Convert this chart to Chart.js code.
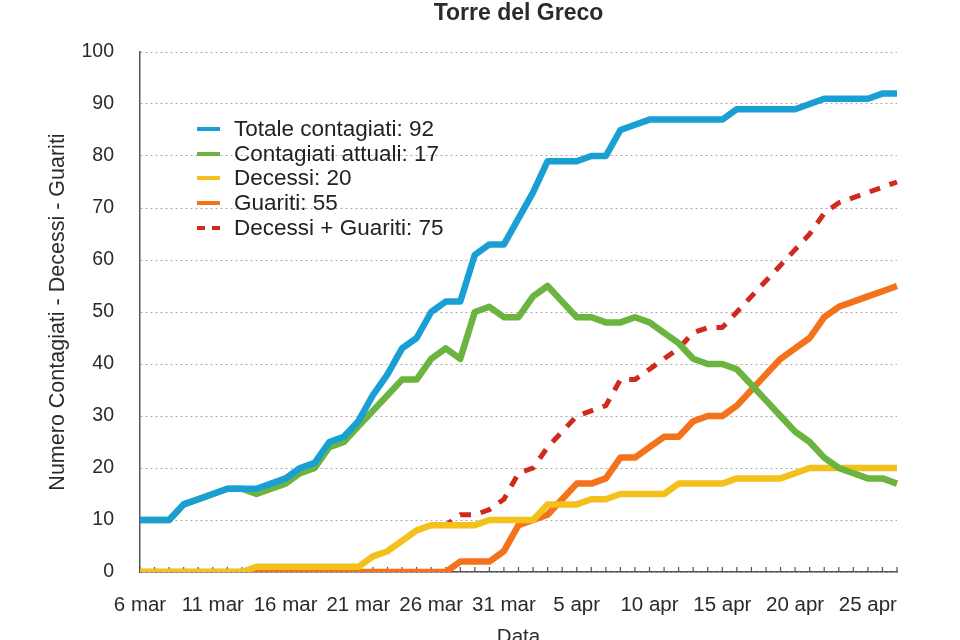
<!DOCTYPE html>
<html>
<head>
<meta charset="utf-8">
<script src="https://cdn.jsdelivr.net/npm/chart.js@4"></script>
<style>
  body { margin: 0; background: #fff; }
  #wrap { position: relative; width: 960px; height: 640px; }
  #legend { position: absolute; left: 197px; top: 117px; font: 22.5px "Liberation Sans", Arial, sans-serif; color: #222; }
  .row { display: flex; align-items: center; height: 24.6px; white-space: nowrap; }
  .sw { width: 23px; height: 4px; margin-right: 14px; }
</style>
</head>
<body>
<div id="wrap">
  <canvas id="c" width="960" height="640"></canvas>
  <div id="legend"></div>
</div>
<script>
const days = [
  '6 mar', '7 mar', '8 mar', '9 mar', '10 mar', '11 mar', '12 mar', '13 mar', '14 mar', '15 mar',
  '16 mar', '17 mar', '18 mar', '19 mar', '20 mar', '21 mar', '22 mar', '23 mar', '24 mar', '25 mar',
  '26 mar', '27 mar', '28 mar', '29 mar', '30 mar', '31 mar',
  '1 apr', '2 apr', '3 apr', '4 apr', '5 apr', '6 apr', '7 apr', '8 apr', '9 apr', '10 apr',
  '11 apr', '12 apr', '13 apr', '14 apr', '15 apr', '16 apr', '17 apr', '18 apr', '19 apr', '20 apr',
  '21 apr', '22 apr', '23 apr', '24 apr', '25 apr', '26 apr', '27 apr',
]

const totale = [
  10, 10, 10, 13, 14, 15, 16, 16, 16, 17,
  18, 20, 21, 25, 26, 29, 34, 38, 43, 45,
  50, 52, 52, 61, 63, 63, 68, 73, 79, 79,
  79, 80, 80, 85, 86, 87, 87, 87, 87, 87,
  87, 89, 89, 89, 89, 89, 90, 91, 91, 91,
  91, 92, 92,
]
const attuali = [
  10, 10, 10, 13, 14, 15, 16, 16, 15, 16,
  17, 19, 20, 24, 25, 28, 31, 34, 37, 37,
  41, 43, 41, 50, 51, 49, 49, 53, 55, 52,
  49, 49, 48, 48, 49, 48, 46, 44, 41, 40,
  40, 39, 36, 33, 30, 27, 25, 22, 20, 19,
  18, 18, 17,
]
const decessi = [
  0, 0, 0, 0, 0, 0, 0, 0, 1, 1,
  1, 1, 1, 1, 1, 1, 3, 4, 6, 8,
  9, 9, 9, 9, 10, 10, 10, 10, 13, 13,
  13, 14, 14, 15, 15, 15, 15, 17, 17, 17,
  17, 18, 18, 18, 18, 19, 20, 20, 20, 20,
  20, 20, 20,
]
const guariti = [
  0, 0, 0, 0, 0, 0, 0, 0, 0, 0,
  0, 0, 0, 0, 0, 0, 0, 0, 0, 0,
  0, 0, 2, 2, 2, 4, 9, 10, 11, 14,
  17, 17, 18, 22, 22, 24, 26, 26, 29, 30,
  30, 32, 35, 38, 41, 43, 45, 49, 51, 52,
  53, 54, 55,
]
const decessiGuariti = [
  0, 0, 0, 0, 0, 0, 0, 0, 1, 1,
  1, 1, 1, 1, 1, 1, 3, 4, 6, 8,
  9, 9, 11, 11, 12, 14, 19, 20, 24, 27,
  30, 31, 32, 37, 37, 39, 41, 43, 46, 47,
  47, 50, 53, 56, 59, 62, 65, 69, 71, 72,
  73, 74, 75,
]

const FONT = '"Liberation Sans", Arial, sans-serif'
const TEXT = '#2a2a2a'

function line(label, data, color, dash) {
  return {
    label,
    data,
    borderColor: color,
    backgroundColor: color,
    borderWidth: dash ? 5 : 6.5,
    borderDash: dash || [],
    borderCapStyle: 'butt',
    borderJoinStyle: 'round',
    pointRadius: 0,
    tension: 0,
    fill: false,
  }
}

const datasets = [
  line('Totale contagiati: 92', totale, '#1a9fd4'),
  line('Contagiati attuali: 17', attuali, '#6bb43f'),
  line('Decessi: 20', decessi, '#f4c01c'),
  line('Guariti: 55', guariti, '#f4721b'),
  line('Decessi + Guariti: 75', decessiGuariti, '#d02a1d', [11, 10]),
]

// small day ticks pointing up from the x axis
const dayTicks = {
  id: 'dayTicks',
  beforeDatasetsDraw(chart) {
    const x = chart.scales.x
    const ctx = chart.ctx
    const y0 = chart.chartArea.bottom
    ctx.save()
    ctx.strokeStyle = '#555'
    ctx.lineWidth = 1.2
    ctx.beginPath()
    days.forEach((d, i) => {
      const px = x.getPixelForValue(i)
      ctx.moveTo(px, y0)
      ctx.lineTo(px, y0 - 5)
    })
    ctx.stroke()
    ctx.restore()
  },
}

const htmlLegend = {
  id: 'htmlLegend',
  afterUpdate(chart) {
    const box = document.getElementById('legend')
    box.innerHTML = ''
    chart.data.datasets.forEach((ds) => {
      const row = document.createElement('div')
      row.className = 'row'
      const sw = document.createElement('span')
      sw.className = 'sw'
      if (ds.borderDash.length) {
        sw.style.background = `repeating-linear-gradient(90deg, ${ds.borderColor} 0 8px, transparent 8px 15px)`
      } else {
        sw.style.background = ds.borderColor
      }
      const txt = document.createElement('span')
      txt.textContent = ds.label
      row.appendChild(sw)
      row.appendChild(txt)
      box.appendChild(row)
    })
  },
}

new Chart(document.getElementById('c'), {
  type: 'line',
  data: { labels: days, datasets },
  plugins: [dayTicks, htmlLegend],
  options: {
    responsive: false,
    animation: false,
    layout: { padding: { left: 0, right: 63, top: 0, bottom: 0 } },
    plugins: {
      legend: { display: false },
      tooltip: { enabled: false },
      title: {
        display: true,
        text: 'Torre del Greco',
        fullSize: false,
        color: TEXT,
        font: { family: FONT, size: 23, weight: 'bold' },
        padding: { top: 0, bottom: 24.4 },
      },
    },
    scales: {
      x: {
        offset: false,
        grid: { display: false },
        border: { display: true, color: '#555', width: 1.5 },
        ticks: {
          autoSkip: false,
          maxRotation: 0,
          padding: 13,
          color: TEXT,
          font: { family: FONT, size: 20.5 },
          callback(v, i) { return i % 5 === 0 ? this.getLabelForValue(v) : '' },
        },
        title: {
          display: true,
          text: 'Data',
          color: TEXT,
          font: { family: FONT, size: 20.5 },
          padding: { top: 0, bottom: -10 },
        },
        afterFit(s) { s.height = 68 },
      },
      y: {
        min: 0,
        max: 100,
        grid: { color: '#aaa', lineWidth: 1, drawTicks: false },
        border: { display: true, color: '#555', width: 1.5, dash: [2, 3] },
        ticks: {
          stepSize: 10,
          padding: 26,
          color: TEXT,
          font: { family: FONT, size: 19.5 },
        },
        title: {
          display: true,
          text: 'Numero Contagiati - Decessi - Guariti',
          color: TEXT,
          font: { family: FONT, size: 21.5 },
          padding: { top: 45, bottom: 0 },
        },
        afterFit(s) { s.width = 140 },
      },
    },
  },
})
</script>
</body>
</html>
